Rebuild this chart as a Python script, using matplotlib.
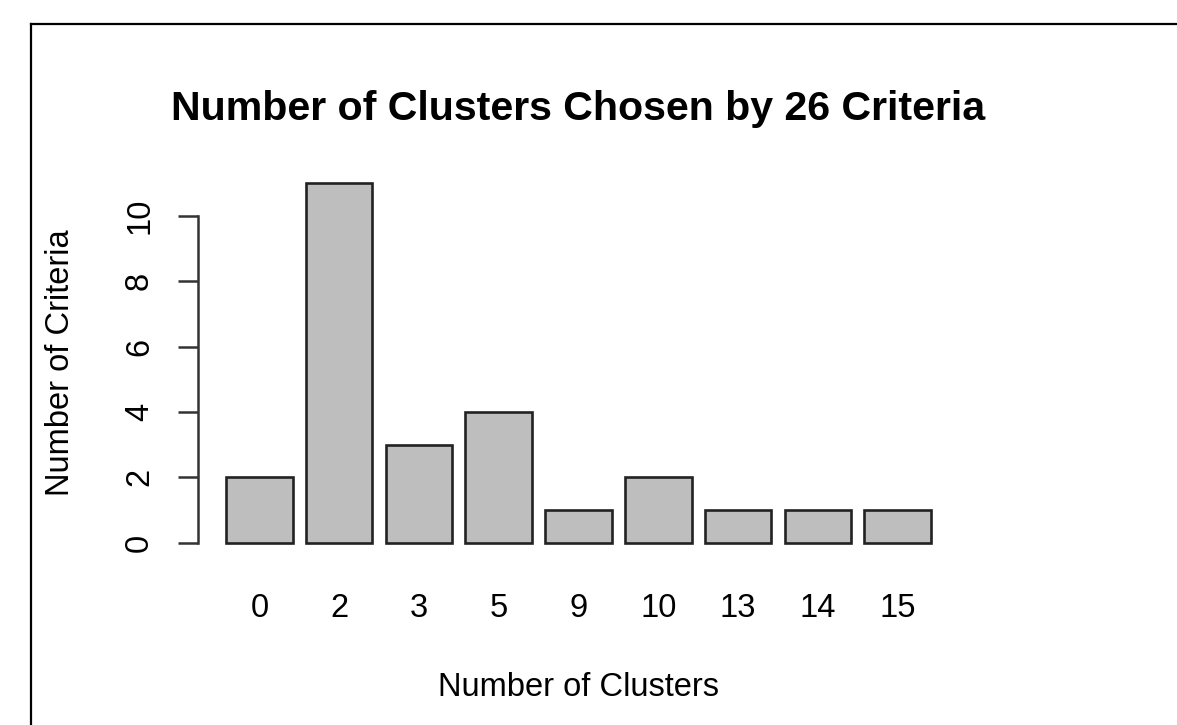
import matplotlib.pyplot as plt
from matplotlib.lines import Line2D

clusters = ["0", "2", "3", "5", "9", "10", "13", "14", "15"]
criteria = [2, 11, 3, 4, 1, 2, 1, 1, 1]
title = "Number of Clusters Chosen by 26 Criteria"

plt.rcParams['font.family'] = ['Liberation Sans', 'DejaVu Sans']

W, H = 1177, 725
fig = plt.figure(figsize=(W / 100, H / 100), dpi=100)

# plot region in pixels (R style: bars width 1, space 0.2)
left, right, top, bottom = 198, 959, 169, 557
ax = fig.add_axes([left / W, 1 - bottom / H, (right - left) / W, (bottom - top) / H])

xs = [0.7 + 1.2 * i for i in range(len(criteria))]
ax.bar(xs, criteria, width=1.0, color="#bebebe", edgecolor="#222222", linewidth=1.9)

n = len(criteria)
x0, x1 = 0.2, 0.2 + 1.2 * n - 0.2
pad_x = 0.04 * (x1 - x0)
ax.set_xlim(x0 - pad_x, x1 + pad_x)
ymax = max(criteria)
ax.set_ylim(-0.04 * ymax, ymax * 1.04)

for s in ["top", "right", "bottom"]:
    ax.spines[s].set_visible(False)
ax.spines["left"].set_bounds(0, 10)
ax.spines["left"].set_linewidth(1.8)
ax.spines["left"].set_color("#333333")

ax.set_yticks([0, 2, 4, 6, 8, 10])
ax.set_yticklabels(["0", "2", "4", "6", "8", "10"], rotation=90, va="center")
ax.tick_params(axis="y", length=14.4, width=1.8, color="#333333", pad=16.5, labelsize=23.5)

ax.set_xticks(xs)
ax.set_xticklabels(clusters)
ax.tick_params(axis="x", length=0, pad=26, labelsize=23.5)

fig.text((left + right) / 2 / W, 1 - 120 / H, title, ha="center", va="baseline",
         fontsize=29.6, fontweight="bold")
fig.text((left + right) / 2 / W, 1 - 696 / H, "Number of Clusters", ha="center",
         va="baseline", fontsize=23.5)
fig.text(61 / W, 1 - 363 / H, "Number of Criteria", ha="center", va="center",
         rotation=90, fontsize=23.5)

# border of the screenshot frame
fig.add_artist(Line2D([30.5 / W, 30.5 / W], [0, 1 - 23.5 / H], color="black", linewidth=1.6))
fig.add_artist(Line2D([30.5 / W, 1], [1 - 23.5 / H, 1 - 23.5 / H], color="black", linewidth=1.6))

fig.savefig("out.png", dpi=100)
